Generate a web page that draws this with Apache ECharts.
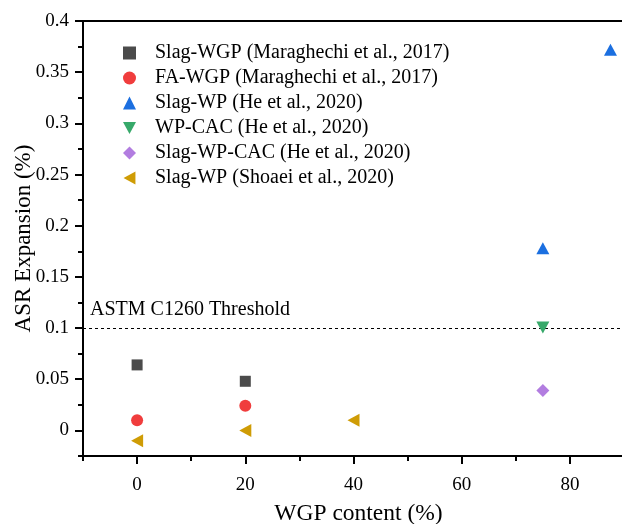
<!DOCTYPE html>
<html><head><meta charset="utf-8">
<script src="https://cdn.jsdelivr.net/npm/echarts@6/dist/echarts.min.js"></script>
<style>html,body{margin:0;padding:0;background:#fff}#c{width:622px;height:524px}</style>
</head><body><div id="c"></div>
<script>
const seriesNames = [
  'Slag-WGP (Maraghechi et al., 2017)',
  'FA-WGP (Maraghechi et al., 2017)',
  'Slag-WP (He et al., 2020)',
  'WP-CAC (He et al., 2020)',
  'Slag-WP-CAC (He et al., 2020)',
  'Slag-WP (Shoaei et al., 2020)'
];
const slagWGP = [[0, 0.064], [20, 0.048]];
const faWGP = [[0, 0.010], [20, 0.024]];
const slagWPHe = [[75, 0.178], [87.5, 0.372]];
const wpCAC = [[75, 0.1005]];
const slagWPCAC = [[75, 0.039]];
const slagWPShoaei = [[0, -0.01], [20, 0.0], [40, 0.01]];
const xMajor = [0, 20, 40, 60, 80];
const xMinor = [-10, 10, 30, 50, 70, 90];
const yMajor = [0, 0.05, 0.1, 0.15, 0.2, 0.25, 0.3, 0.35, 0.4];
const yMinor = [-0.025, 0.025, 0.075, 0.125, 0.175, 0.225, 0.275, 0.325, 0.375];
const threshold = 0.1;
const thresholdLabel = 'ASTM C1260 Threshold';

const FONT = '"Liberation Serif", "Times New Roman", serif';
const DOWN_TRI = 'path://M0,0 L12,0 L6,11 Z';
const LEFT_TRI = 'path://M11,0 L11,12 L0,6 Z';
const chart = echarts.init(document.getElementById('c'), null, {renderer: 'canvas'});
const axisLine = {show: true, onZero: false, lineStyle: {color: '#000', width: 2}};
const xBase = {type: 'value', min: -10, max: 90, gridIndex: 0, splitLine: {show: false}};
const yBase = {type: 'value', min: -0.025, max: 0.4, gridIndex: 0, splitLine: {show: false}};

function sc(name, data, symbol, color, size) {
  return {
    type: 'scatter', name: name, data: data, symbol: symbol, symbolSize: size,
    itemStyle: {color: color, opacity: 1}, z: 5
  };
}
const colors = ['#4b4b4b', '#f03d3d', '#1b6fe0', '#37a96a', '#b27de0', '#cf9c05'];
const symbols = ['rect', 'circle', 'triangle', DOWN_TRI, 'diamond', LEFT_TRI];
const series = [
  sc(seriesNames[0], slagWGP, symbols[0], colors[0], 11),
  sc(seriesNames[1], faWGP, symbols[1], colors[1], 12),
  sc(seriesNames[2], slagWPHe, symbols[2], colors[2], [13, 12]),
  sc(seriesNames[3], wpCAC, symbols[3], colors[3], [13, 12]),
  sc(seriesNames[4], slagWPCAC, symbols[4], colors[4], [13, 13]),
  sc(seriesNames[5], slagWPShoaei, symbols[5], colors[5], [12, 13])
];
series[0].markLine = {
  silent: true, symbol: 'none',
  lineStyle: {color: '#000', type: [3, 3], width: 1},
  label: {show: true, position: 'insideStartTop', formatter: thresholdLabel,
    color: '#000', fontFamily: FONT, fontSize: 20, distance: [7, 8]},
  data: [{yAxis: threshold}]
};

chart.setOption({
  animation: false,
  backgroundColor: '#fff',
  grid: {left: 83, right: -2, top: 21, bottom: 68, show: true, borderColor: '#000', borderWidth: 2,
    containLabel: false, outerBoundsMode: 'none'},
  legend: {
    orient: 'vertical', left: 118, top: 38, itemWidth: 13, itemHeight: 13, itemGap: 5,
    data: seriesNames.map((n, i) => ({name: n, icon: symbols[i]})),
    textStyle: {fontFamily: FONT, fontSize: 20, color: '#000', padding: [0, 0, 0, 14]}
  },
  xAxis: [
    Object.assign({}, xBase, {
      position: 'bottom',
      name: 'WGP content (%)', nameLocation: 'middle', nameGap: 46,
      nameTextStyle: {fontFamily: FONT, fontSize: 23.5, color: '#000', padding: [0, 0, 0, 10]},
      axisLine: axisLine,
      axisTick: {show: true, inside: false, length: 8, lineStyle: {color: '#000', width: 2}, customValues: xMajor},
      axisLabel: {show: true, customValues: xMajor, margin: 20, fontFamily: FONT, fontSize: 19, color: '#000'}
    }),
    Object.assign({}, xBase, {
      position: 'bottom',
      axisLine: {show: false, onZero: false},
      axisTick: {show: true, inside: false, length: 5, lineStyle: {color: '#000', width: 2}, customValues: xMinor},
      axisLabel: {show: false}
    })
  ],
  yAxis: [
    Object.assign({}, yBase, {
      position: 'left',
      name: 'ASR Expansion (%)', nameLocation: 'middle', nameGap: 48, nameMoveOverlap: false,
      nameTextStyle: {fontFamily: FONT, fontSize: 23, color: '#000'},
      axisLine: axisLine,
      axisTick: {show: true, inside: false, length: 8, lineStyle: {color: '#000', width: 2}, customValues: yMajor},
      axisLabel: {show: true, customValues: yMajor, margin: 14, fontFamily: FONT, fontSize: 19, color: '#000'}
    }),
    Object.assign({}, yBase, {
      position: 'left',
      axisLine: {show: false, onZero: false},
      axisTick: {show: true, inside: false, length: 5, lineStyle: {color: '#000', width: 2}, customValues: yMinor},
      axisLabel: {show: false}
    })
  ],
  series: series
});
</script></body></html>
